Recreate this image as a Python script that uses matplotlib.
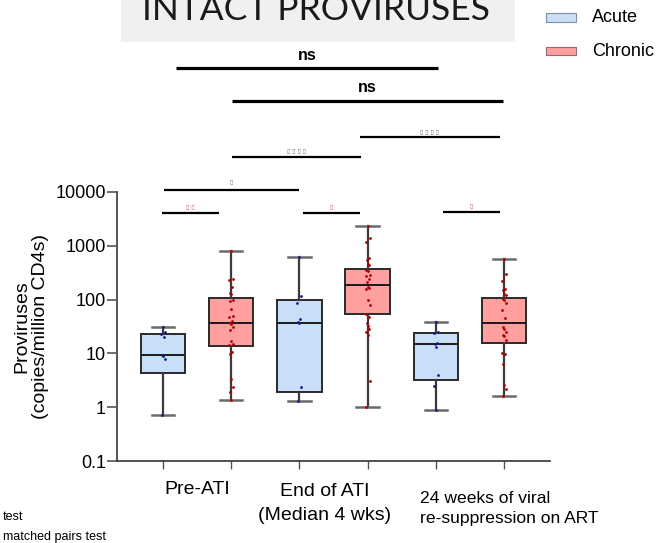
import matplotlib
matplotlib.use("Agg")
import matplotlib.pyplot as plt
import matplotlib.transforms as mtransforms
from matplotlib.patches import Rectangle

plt.rcParams['font.family'] = ['Liberation Sans', 'DejaVu Sans']

# ---------------- data ----------------
groups = ["Pre-ATI", "End of ATI\n(Median 4 wks)", "24 weeks of viral\nre-suppression on ART"]
series = ["Acute", "Chronic"]

acute_pre = [30.3, 25.5, 23.4, 20.3, 9.5, 8.8, 7.9, 0.72]
chronic_pre = [817, 238, 230, 174, 130, 125, 98, 95, 67, 50, 47, 40, 36, 35, 31, 27,
               17, 15, 14.5, 10.6, 9.9, 3.3, 2.4, 1.9, 1.35]
acute_end = [631, 116, 85, 42.7, 38.6, 36, 2.4, 1.33]
chronic_end = [2291, 1368, 1153, 596, 547, 461, 440, 356, 340, 287, 270, 242, 215, 174,
               162, 158, 98, 81, 55, 48, 37, 32, 29, 25, 22, 3.1, 1.0]
acute_24 = [38.6, 25, 24, 15.9, 15.2, 13.4, 3.96, 2.43, 0.87]
chronic_24 = [571, 295, 222, 155, 150, 127, 120, 101, 97, 87, 64, 45, 31, 29, 25, 22, 21,
              17.6, 10.2, 9.7, 6.3, 2.6, 2.2, 1.63]

box_q1 = [4.4, 13.6, 1.9, 53.7, 3.2, 15.4]
box_med = [9.2, 37.5, 37.5, 187, 15.2, 37.5]
box_q3 = [23.4, 105, 99.5, 366, 24.4, 108]
box_lo = [0.72, 1.35, 1.29, 1.01, 0.87, 1.63]
box_hi = [30.3, 817, 631, 2291, 38.6, 571]

yticks = [0.1, 1, 10, 100, 1000, 10000]
yticklabels = ["0.1", "1", "10", "100", "1000", "10000"]

title = "INTACT PROVIRUSES"
ylabel = "Proviruses\n(copies/million CD4s)"
footnotes = ["test", "matched pairs test"]

sig_labels = ["ns", "ns", "\u25af \u25af \u25af \u25af", "\u25af \u25af \u25af \u25af",
              "\u25af", "\u25af \u25af", "\u25af", "\u25af"]

# ---------------- layout ----------------
W, H = 660, 543
fig = plt.figure(figsize=(W / 100, H / 100), dpi=100)
ax_left, ax_right, ax_top, ax_bot = 117, 550, 192, 461
ax = fig.add_axes([ax_left / W, 1 - ax_bot / H, (ax_right - ax_left) / W, (ax_bot - ax_top) / H])

points = [acute_pre, chronic_pre, acute_end, chronic_end, acute_24, chronic_24]
fills = ["#c9def7", "#ff9f9f"]
dotc = ["#14148c", "#b00000"]
positions = list(range(6))

stats = []
for i in range(6):
    stats.append(dict(q1=box_q1[i], med=box_med[i], q3=box_q3[i],
                      whislo=box_lo[i], whishi=box_hi[i], fliers=[], label=""))

bp = ax.bxp(stats, positions=positions, widths=0.65, capwidths=0.33, patch_artist=True,
            showfliers=False,
            boxprops=dict(edgecolor="#2a2a2a", linewidth=1.4),
            medianprops=dict(color="#1a1a1a", linewidth=1.4),
            whiskerprops=dict(color="#3a3a3a", linewidth=1.6),
            capprops=dict(color="#6a6a6a", linewidth=1.8))
for i, b in enumerate(bp["boxes"]):
    b.set_facecolor(fills[i % 2])
    b.set_zorder(2)

jit = [0, 0.03, -0.03, 0.015, -0.015, 0.0, 0.025, -0.02]
for i, vals in enumerate(points):
    xs = [positions[i] + jit[k % len(jit)] for k in range(len(vals))]
    ax.plot(xs, vals, 'o', ms=2.0, color=dotc[i % 2], zorder=4, mec='none')

ax.set_yscale("log")
ax.set_ylim(0.1, 10000)
px_per_unit = 68.2
ax.set_xlim((ax_left - 163) / px_per_unit, (ax_right - 163) / px_per_unit)
ax.set_yticks(yticks)
ax.set_yticklabels(yticklabels)
ax.yaxis.set_minor_locator(matplotlib.ticker.NullLocator())
ax.set_xticks(positions)
ax.set_xticklabels([])
ax.tick_params(axis='y', length=7, width=1.2, color="#555555", pad=1, labelsize=13)
ax.tick_params(axis='x', length=6, width=1.0, color="#555555")
for s in ["top", "right"]:
    ax.spines[s].set_visible(False)
ax.spines["left"].set_color("#555555")
ax.spines["left"].set_linewidth(1.4)
ax.spines["bottom"].set_color("#333333")
ax.spines["bottom"].set_linewidth(1.2)
ax.patch.set_alpha(0)

def fy(ypx):
    return 1 - ypx / H

blend = mtransforms.blended_transform_factory(ax.transData, fig.transFigure)

def dx(xpx):
    return (xpx - 163) / px_per_unit

# group labels (y = baseline of the last line)
fig.text(dx(197), fy(494), groups[0], transform=blend, ha='center', va='baseline', fontsize=14)
fig.text(dx(325), fy(520), groups[1], transform=blend, ha='center', va='baseline', fontsize=14,
         multialignment='center', linespacing=1.5)
fig.text(dx(420), fy(523), groups[2], transform=blend, ha='left', va='baseline', fontsize=12.6,
         multialignment='left', linespacing=1.45)

# significance bars
sig_geom = [
    (176, 438, 68, 60, 2.3, 'ns'),
    (232, 503, 101, 92, 2.3, 'ns'),
    (360, 500, 137, 134, 1.6, 'g'),
    (232, 361, 157, 153, 1.6, 'g'),
    (164, 299, 190, 184, 1.6, 'g'),
    (162, 219, 213, 209, 1.6, 'r'),
    (303, 360, 213, 209, 1.6, 'r'),
    (443, 500, 212, 208, 1.6, 'r'),
]
for (x0, x1, yb, yt, lw, kind), lab in zip(sig_geom, sig_labels):
    fig.add_artist(matplotlib.lines.Line2D([dx(x0), dx(x1)], [fy(yb), fy(yb)], transform=blend,
                                           color='black', lw=lw, solid_capstyle='butt'))
    xm = (dx(x0) + dx(x1)) / 2
    if kind == 'ns':
        fig.text(xm, fy(yt), lab, transform=blend, ha='center', va='baseline', fontsize=11.5,
                 fontweight='bold')
    else:
        col = '#777777' if kind == 'g' else '#d05a5a'
        fig.text(xm, fy(yt), lab, transform=blend, ha='center', va='baseline', fontsize=4.5,
                 color=col)

# title box
fig.add_artist(Rectangle((121 / W, fy(42)), (515 - 121) / W, 42 / H, transform=fig.transFigure,
                         facecolor='#f0f0f0', edgecolor='none', zorder=0))
fig.text((143 + 489) / 2 / W, fy(20), title, ha='center', va='baseline', fontsize=25.5,
         family=['Lato', 'DejaVu Sans'], color='#1a1a1a', zorder=1)

# legend
leg_y = [(13, 22, 18), (47, 55, 51)]
leg_edge = ["#7f8ea3", "#8c6c6c"]
for i, name in enumerate(series):
    y0, y1, yc = leg_y[i]
    fig.add_artist(Rectangle((546 / W, fy(y1)), 30 / W, (y1 - y0) / H, transform=fig.transFigure,
                             facecolor=fills[i], edgecolor=leg_edge[i], lw=0.8))
    fig.text(592 / W, fy(yc), name, ha='left', va='center', fontsize=13)

# y label
fig.text(31 / W, fy(326.5), ylabel, rotation=90, ha='center', va='center', fontsize=14,
         multialignment='center', linespacing=1.15)

# footnotes
fig.text(3 / W, fy(520), footnotes[0], ha='left', va='baseline', fontsize=9)
fig.text(3 / W, fy(540), footnotes[1], ha='left', va='baseline', fontsize=9)

fig.savefig("out.png", dpi=100)
